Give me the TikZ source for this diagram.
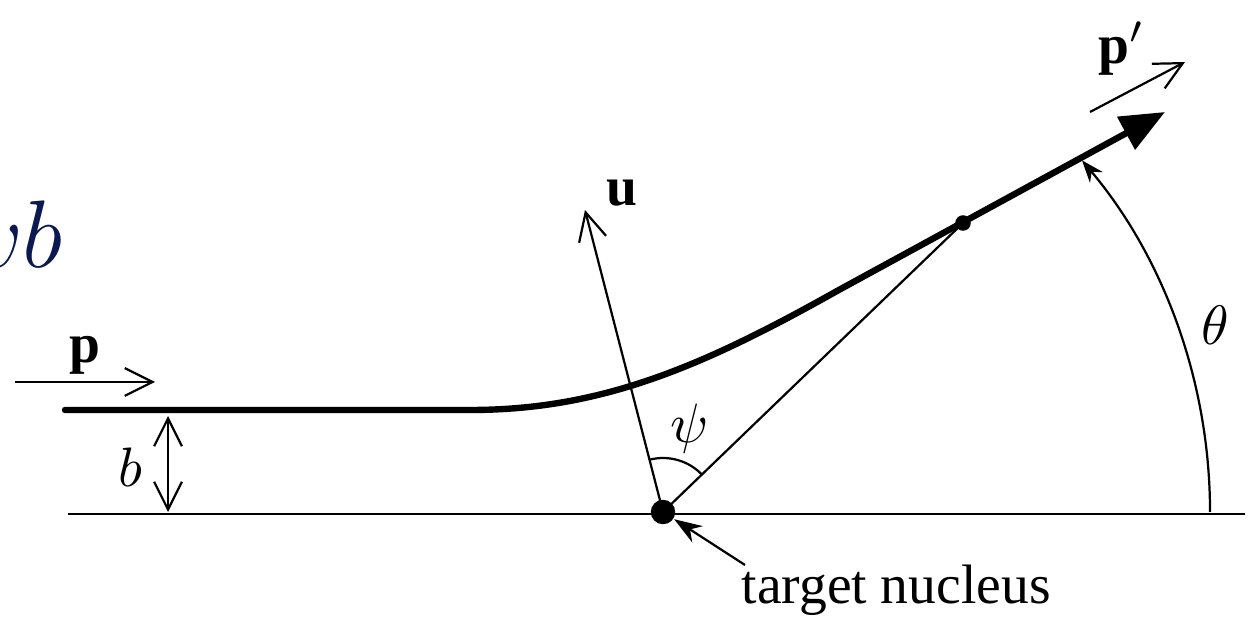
\documentclass[tikz,border=0pt]{standalone}
\usepackage{fontspec}
\setmainfont{Liberation Serif}
\usetikzlibrary{arrows.meta,calc}
\definecolor{navy}{RGB}{10,25,80}
\tikzset{
  thinline/.style={line width=0.4pt},
  barb/.style={thinline, -{Straight Barb[length=5pt,width=5pt]}},
  traj/.style={line width=1.15pt, line cap=round},
  dot/.style={circle, fill=black, inner sep=0pt, minimum size=#1}
}

\begin{document}
\begin{tikzpicture}[x=0.18pt,y=0.18pt]
\useasboundingbox (0,0) rectangle (1248,617);
\clip (0,0) rectangle (1248,617);

% Axis and nucleus
\draw[thinline] (68,103) -- (1245,103);
\node[dot=4.4pt] (nuc) at (663,105) {};
\node[dot=2.8pt] (P) at (963,394) {};
\coordinate (utip) at (585,407);

% Trajectory
\draw[traj, -{Triangle[length=8pt,width=6.5pt]}] (65,207) -- (470,207) .. controls (600,207) and (700,249) .. (837,326) -- (1165,505);

% Vectors
\draw[barb] (15,235) -- (155,235);
\node[font=\bfseries] at (85,262) {p};
\draw[barb] (nuc.center) -- (utip);
\node[font=\bfseries] at (622,424) {u};
\draw[barb] (1090,505) -- (1185,555);
\node at (1122,568) {\textbf{p}$'$};
\draw[thinline] (nuc.center) -- (P.center);

% Impact parameter
\draw[thinline, {Straight Barb[length=5pt,width=5pt]}-{Straight Barb[length=5pt,width=5pt]}] (168,201) -- (168,105);
\node at (130,150) {$b$};

% Angles
\draw[thinline] ($(nuc)+(43.9:54)$) arc (43.9:104.5:54);
\node at (690,188) {$\psi$};
\draw[thinline, -{Stealth[length=4pt,width=3pt]}] ($(nuc)+(0:547)$) arc (0:40:547);
\node at (1215,292) {$\theta$};

% Label
\node[anchor=west] (lab) at (722,27) {target nucleus};
\draw[thinline, -{Stealth[length=5pt,width=3.5pt]}] (745,52) -- (nuc);

% Cut-off text
\node[anchor=base east, text=navy, font=\fontsize{17}{20}\selectfont, inner sep=0pt] at (64,349) {$vb$};
\end{tikzpicture}
\end{document}
